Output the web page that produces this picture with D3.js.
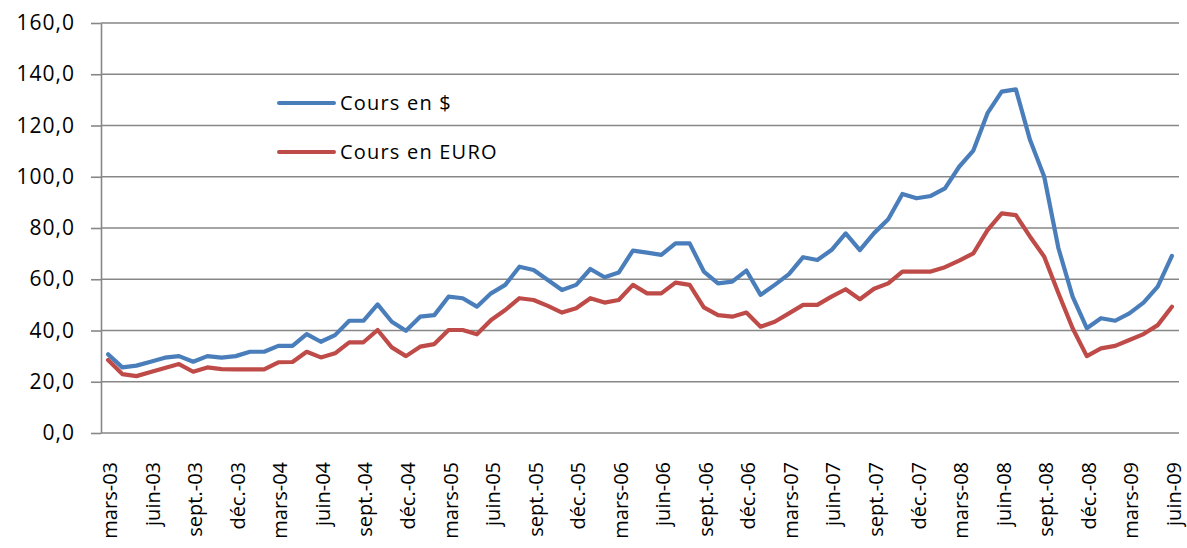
<!DOCTYPE html>
<html>
<head>
<meta charset="utf-8">
<script src="https://cdn.jsdelivr.net/npm/d3@7"></script>
<style>
  body { margin: 0; background: #fff; }
  text { font-family: "Open Sans", sans-serif; fill: #000; }
</style>
</head>
<body>
<div id="viz"></div>
<script>
// month names as Excel writes them in French
const monthNames = ["janv.", "févr.", "mars", "avr.", "mai", "juin",
                    "juil.", "août", "sept.", "oct.", "nov.", "déc."];

// monthly categories, mars-03 .. juin-09
const categories = [];
for (let yr = 3; yr <= 9; yr++) {
  for (let m = 0; m < 12; m++) {
    if (yr === 3 && m < 2) continue;
    if (yr === 9 && m > 5) continue;
    categories.push(`${monthNames[m]}-0${yr}`);
  }
}

const tickLabels = ["mars-03", "juin-03", "sept.-03", "déc.-03",
                    "mars-04", "juin-04", "sept.-04", "déc.-04",
                    "mars-05", "juin-05", "sept.-05", "déc.-05",
                    "mars-06", "juin-06", "sept.-06", "déc.-06",
                    "mars-07", "juin-07", "sept.-07", "déc.-07",
                    "mars-08", "juin-08", "sept.-08", "déc.-08",
                    "mars-09", "juin-09"];

const yTicks = [0, 20, 40, 60, 80, 100, 120, 140, 160];

// Cours en $
const coursDollar = [
  30.7, 25.6, 26.3, 27.8, 29.4, 30.0, 27.8, 30.0, 29.4, 30.0, 31.7, 31.7,
  34.0, 34.0, 38.6, 35.6, 38.2, 43.8, 43.8, 50.2, 43.4, 39.9, 45.4, 46.0,
  53.2, 52.6, 49.3, 54.5, 57.8, 64.9, 63.6, 59.7, 55.8, 57.8, 64.0, 60.8,
  62.6, 71.2, 70.4, 69.5, 74.0, 74.0, 63.0, 58.4, 59.1, 63.4, 53.9, 57.8,
  62.0, 68.6, 67.5, 71.4, 77.9, 71.4, 78.0, 83.4, 93.3, 91.6, 92.5, 95.5,
  103.9, 110.2, 124.8, 133.2, 134.1, 114.3, 100.0, 72.1, 53.2, 40.9, 44.8, 43.8,
  46.7, 50.9, 57.1, 69.1
];

// Cours en EURO
const coursEuro = [
  28.5, 23.0, 22.2, 23.8, 25.4, 26.9, 23.9, 25.6, 24.9, 24.8, 24.8, 24.8,
  27.6, 27.7, 31.7, 29.5, 31.1, 35.4, 35.4, 40.2, 33.4, 30.0, 33.7, 34.7,
  40.2, 40.2, 38.5, 44.1, 48.0, 52.6, 51.9, 49.6, 47.0, 48.7, 52.6, 50.9,
  51.9, 57.8, 54.5, 54.5, 58.7, 57.8, 49.0, 46.0, 45.4, 47.0, 41.5, 43.4,
  46.7, 50.0, 50.0, 53.2, 56.1, 52.2, 56.3, 58.4, 63.0, 63.0, 63.0, 64.7,
  67.3, 70.1, 79.2, 85.7, 85.0, 76.6, 68.8, 54.5, 40.9, 30.0, 33.0, 34.0,
  36.3, 38.6, 42.1, 49.3
];

const seriesNames = ["Cours en $", "Cours en EURO"];
const seriesColors = ["#4a7ebb", "#be4b48"];

const series = [
  {name: seriesNames[0], values: coursDollar},
  {name: seriesNames[1], values: coursEuro}
];

const margin = {top: 23, right: 8, bottom: 115, left: 101},
      width = 1187 - margin.left - margin.right,
      height = 548 - margin.top - margin.bottom;

const svg = d3.select("#viz")
  .append("svg")
  .attr("width", width + margin.left + margin.right)
  .attr("height", height + margin.top + margin.bottom)
  .append("g")
  .attr("transform", `translate(${margin.left},${margin.top})`);

const x = d3.scaleBand()
  .domain(categories)
  .range([0, width]);

const y = d3.scaleLinear()
  .domain([0, 160])
  .range([height, 0]);

const color = d3.scaleOrdinal().domain(seriesNames).range(seriesColors);
const gridColor = "#878787";

// gridlines
svg.append("g")
  .selectAll("line")
  .data(yTicks)
  .enter().append("line")
  .attr("x1", 0)
  .attr("x2", width)
  .attr("y1", d => y(d))
  .attr("y2", d => y(d))
  .attr("stroke", gridColor)
  .attr("stroke-width", 1.6);

// y axis
const fmt = d => d3.format(".1f")(d).replace(".", ",");
const yAxis = svg.append("g")
  .call(d3.axisLeft(y).tickValues(yTicks).tickSize(10).tickSizeOuter(0)
    .tickPadding(16).tickFormat(fmt));
yAxis.selectAll("path, line").attr("stroke", gridColor).attr("stroke-width", 1.6);
yAxis.selectAll("text")
  .attr("font-size", 21)
  .attr("letter-spacing", "1px")
  .style("font-family", "'Open Sans', sans-serif");

// x axis
const xAxis = svg.append("g")
  .attr("transform", `translate(0,${height})`)
  .call(d3.axisBottom(x).tickValues(tickLabels).tickSize(0));
xAxis.select(".domain").remove();
xAxis.selectAll("text")
  .attr("transform", "rotate(-90)")
  .attr("text-anchor", "end")
  .attr("x", -29)
  .attr("y", 0)
  .attr("dy", "0.45em")
  .attr("font-size", 20)
  .style("font-family", "'Open Sans', sans-serif");

// lines
const line = d3.line()
  .x((d, i) => x(categories[i]) + x.bandwidth() / 2)
  .y(d => y(d));

svg.selectAll(".serie")
  .data(series)
  .enter().append("path")
  .attr("class", "serie")
  .attr("d", d => line(d.values))
  .attr("fill", "none")
  .attr("stroke", d => color(d.name))
  .attr("stroke-width", 4.2)
  .attr("stroke-linejoin", "round")
  .attr("stroke-linecap", "round");

// legend
const legend = svg.append("g")
  .attr("transform", `translate(${279 - margin.left},${103 - margin.top})`);

const legendItems = legend.selectAll(".legend-item")
  .data(series)
  .enter().append("g")
  .attr("class", "legend-item")
  .attr("transform", (d, i) => `translate(0,${i * 49})`);

legendItems.append("line")
  .attr("x1", 0)
  .attr("x2", 55)
  .attr("stroke", d => color(d.name))
  .attr("stroke-width", 4)
  .attr("stroke-linecap", "round");

legendItems.append("text")
  .attr("x", 61)
  .attr("dy", "0.35em")
  .attr("font-size", 20)
  .attr("letter-spacing", "1.2px")
  .text(d => d.name);
</script>
</body>
</html>
